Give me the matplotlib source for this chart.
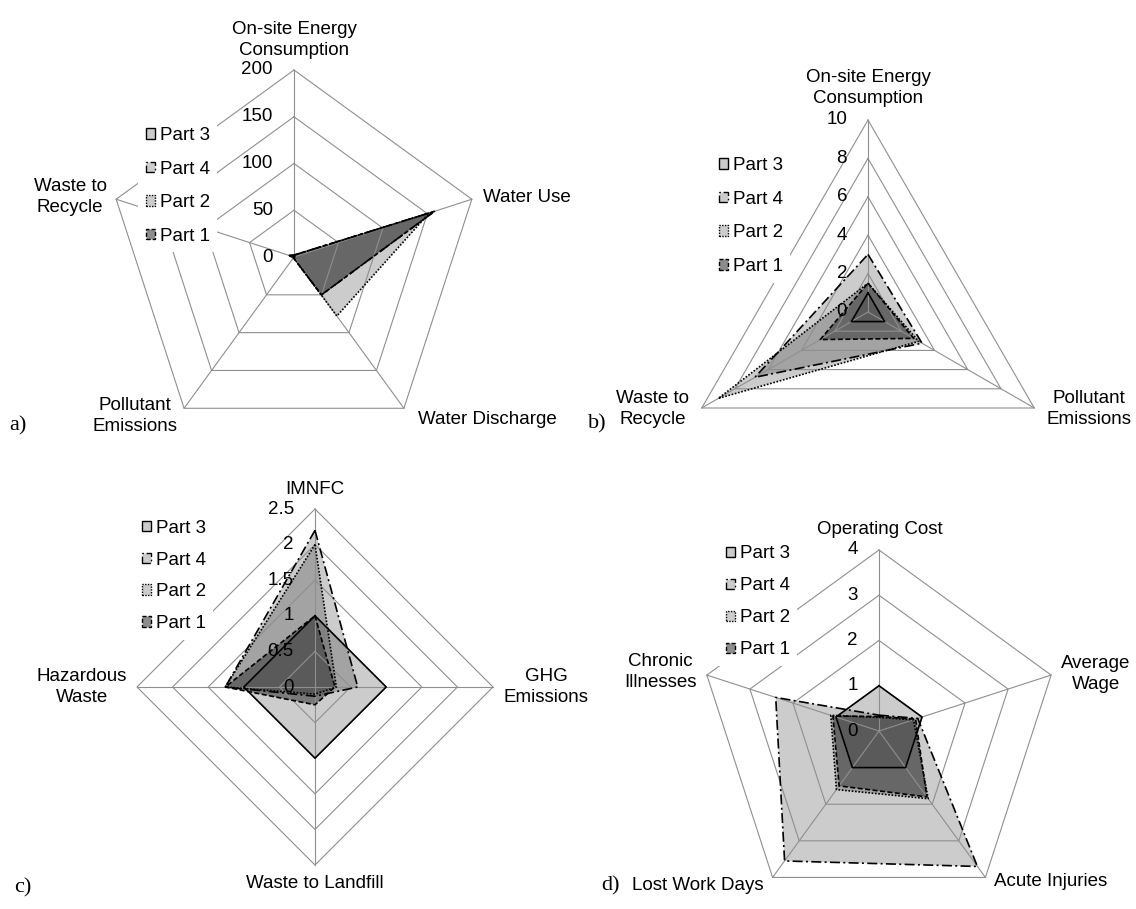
import numpy as np
import matplotlib.pyplot as plt
from matplotlib.patches import Patch

plt.rcParams['font.family'] = ['Liberation Sans', 'DejaVu Sans']

# ---- data ----
series_names = ['Part 3', 'Part 4', 'Part 2', 'Part 1']

cats_a = ['On-site Energy\nConsumption', 'Water Use', 'Water Discharge',
          'Pollutant\nEmissions', 'Waste to\nRecycle']
a_part3 = [1, 1, 1, 1, 1]
a_part4 = [2, 158, 50, 1, 5]
a_part2 = [2, 152, 78, 1, 5]
a_part1 = [2, 158, 50, 1, 5]

cats_b = ['On-site Energy\nConsumption', 'Pollutant\nEmissions', 'Waste to\nRecycle']
b_part3 = [1, 1, 1]
b_part4 = [3.0, 3.25, 6.8]
b_part2 = [1.5, 3.05, 9.0]
b_part1 = [1.5, 2.75, 2.87]

cats_c = ['IMNFC', 'GHG\nEmissions', 'Waste to Landfill', 'Hazardous\nWaste']
c_part3 = [1, 1, 1, 1]
c_part4 = [2.2, 0.6, 0.13, 1.26]
c_part2 = [2.0, 0.3, 0.1, 1.26]
c_part1 = [1.0, 0.28, 0.25, 1.26]

cats_d = ['Operating Cost', 'Average\nWage', 'Acute Injuries', 'Lost Work Days',
          'Chronic\nIllnesses']
d_part3 = [1, 1, 1, 1, 1]
d_part4 = [0.35, 0.9, 3.7, 3.55, 2.4]
d_part2 = [0.3, 0.8, 1.85, 1.6, 1.12]
d_part1 = [0.32, 0.85, 1.8, 1.5, 1.07]

# ---- styles ----
light = (0, 0, 0, 0.2)
dark = (0.25, 0.25, 0.25, 0.6)
styles = {
    'Part 3': dict(fc=light, ls='-'),
    'Part 4': dict(fc=light, ls=(0, (6, 2, 1.2, 2))),
    'Part 2': dict(fc=light, ls=(0, (1, 1))),
    'Part 1': dict(fc=dark, ls=(0, (3, 1.5))),
}
grid_color = '#8f8f8f'
FS = 13.5

fig = plt.figure(figsize=(11.36, 9.09), dpi=100)
ax = fig.add_axes([0, 0, 1, 1])
ax.set_xlim(0, 1136)
ax.set_ylim(909, 0)
ax.axis('off')


def radar(cx, cy, R, vmax, step, cats, data, label_pos, legend_pos, spacing):
    n = len(cats)
    ang = 2 * np.pi * np.arange(n) / n
    sx, sy = np.sin(ang), -np.cos(ang)

    def xy(vals):
        r = R * np.asarray(vals, dtype=float) / vmax
        x = cx + r * sx
        y = cy + r * sy
        return np.append(x, x[0]), np.append(y, y[0])

    ticks = np.arange(0, vmax + step / 2, step)
    for v in ticks[1:]:
        gx, gy = xy([v] * n)
        ax.plot(gx, gy, color=grid_color, lw=0.8, zorder=3)
    for k in range(n):
        ax.plot([cx, cx + R * sx[k]], [cy, cy + R * sy[k]], color=grid_color, lw=0.8, zorder=3)
    for v in ticks:
        ax.text(cx - 21, cy - R * v / vmax, f'{v:g}', ha='right', va='center',
                fontsize=FS, zorder=6)

    for name in series_names:
        px, py = xy(data[name])
        st = styles[name]
        ax.fill(px, py, facecolor=st['fc'], edgecolor='none', zorder=2)
        ax.plot(px, py, color='black', lw=1.2, ls=st['ls'], zorder=4)

    for lab, (lx, ly) in zip(cats, label_pos):
        ax.text(lx, ly, lab, ha='center', va='center', fontsize=FS,
                linespacing=1.3, zorder=6)

    handles = [Patch(facecolor=styles[s]['fc'], edgecolor='black',
                     linestyle=styles[s]['ls'], linewidth=1.0) for s in series_names]
    leg = fig.legend(handles, series_names, loc='center left',
                     bbox_to_anchor=legend_pos, bbox_transform=ax.transData,
                     fontsize=FS, frameon=True, framealpha=1, facecolor='white',
                     edgecolor='none', handlelength=0.5, handleheight=0.5,
                     handletextpad=0.25, labelspacing=spacing, borderpad=0.4,
                     borderaxespad=0, fancybox=False)
    leg.set_zorder(5)


radar(294, 257, 187, 200, 50, cats_a,
      {'Part 3': a_part3, 'Part 4': a_part4, 'Part 2': a_part2, 'Part 1': a_part1},
      [(294, 40), (527, 197), (487, 419), (135, 416), (70, 197)],
      (138, 186), 0.88)

radar(868, 312, 192, 10, 2, cats_b,
      {'Part 3': b_part3, 'Part 4': b_part4, 'Part 2': b_part2, 'Part 1': b_part1},
      [(868, 88), (1089, 409), (653, 409)],
      (711, 216), 0.89)

radar(315, 687, 178, 2.5, 0.5, cats_c,
      {'Part 3': c_part3, 'Part 4': c_part4, 'Part 2': c_part2, 'Part 1': c_part1},
      [(315, 490), (546, 687), (315, 883), (82, 687)],
      (134, 576), 0.79)

radar(879, 731, 181, 4, 1, cats_d,
      {'Part 3': d_part3, 'Part 4': d_part4, 'Part 2': d_part2, 'Part 1': d_part1},
      [(880, 530), (1096, 674), (1051, 882), (698, 885), (660, 672)],
      (718, 602), 0.8)

for letter, (lx, ly) in zip(['a)', 'b)', 'c)', 'd)'],
                            [(18, 426), (597, 424), (23, 888), (611, 886)]):
    ax.text(lx, ly, letter, ha='center', va='center', fontsize=16,
            family=['Liberation Serif', 'DejaVu Serif'])

fig.savefig('out.png', dpi=100)
